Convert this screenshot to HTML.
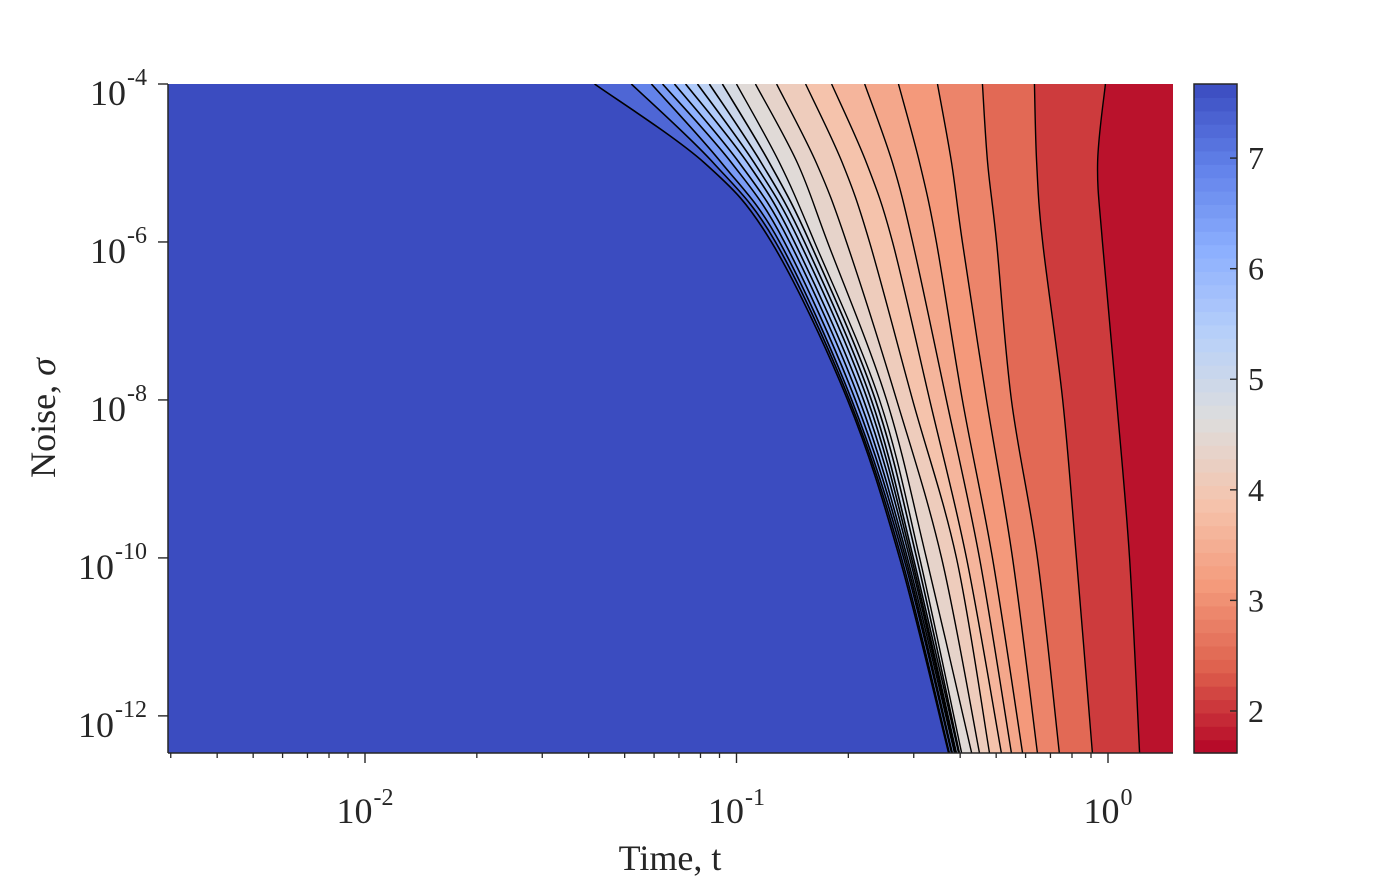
<!DOCTYPE html>
<html><head><meta charset="utf-8"><style>
html,body{margin:0;padding:0;background:#fff;}
svg{display:block;font-family:"Liberation Serif",serif;}
</style></head><body>
<svg id="chart" width="1400" height="877" viewBox="0 0 1400 877" xmlns="http://www.w3.org/2000/svg">
<defs><clipPath id="plotclip"><rect x="168" y="84" width="1005" height="669"/></clipPath></defs>
<g id="plot" clip-path="url(#plotclip)"></g>
<g id="axes"></g>
<g id="cbar"></g>
<text x="670" y="870" font-size="36" text-anchor="middle" fill="#262626">Time, t</text>
<text transform="translate(55,418) rotate(-90)" font-size="36" text-anchor="middle" fill="#262626">Noise, <tspan font-style="italic">σ</tspan></text>
</svg>
<script>
// ---- data ----
const sigmaRows = [-4, -5, -6, -8, -10, -12.47]; // log10 sigma
// contour lines (log10 t at each sigma row), ordered left (blue edge) -> right (red)
const lineEdge = [-1.382, -1.086, -0.906, -0.701, -0.561, -0.429];
const lineD8 = [-1.283, -1.062, -0.895, -0.696, -0.556, -0.427];
const lineD7 = [-1.229, -1.040, -0.884, -0.690, -0.550, -0.421];
const lineD6 = [-1.199, -1.013, -0.871, -0.680, -0.545, -0.419];
const lineD5 = [-1.167, -0.992, -0.857, -0.669, -0.540, -0.413];
const lineD4 = [-1.137, -0.970, -0.844, -0.658, -0.534, -0.410];
const lineD3 = [-1.105, -0.952, -0.830, -0.647, -0.529, -0.408];
const lineD2 = [-1.073, -0.933, -0.817, -0.637, -0.524, -0.402];
const lineD1 = [-1.038, -0.911, -0.803, -0.626, -0.515, -0.400];
const lineL10 = [-1.000, -0.884, -0.790, -0.615, -0.507, -0.394];
const lineL9 = [-0.949, -0.836, -0.755, -0.596, -0.489, -0.367];
const lineL8 = [-0.892, -0.785, -0.704, -0.569, -0.448, -0.346];
const lineL7 = [-0.814, -0.715, -0.642, -0.526, -0.408, -0.319];
const lineL6 = [-0.744, -0.650, -0.580, -0.480, -0.381, -0.287];
const lineL5 = [-0.655, -0.580, -0.526, -0.435, -0.346, -0.260];
const lineL4 = [-0.564, -0.507, -0.462, -0.392, -0.311, -0.230];
const lineL3 = [-0.459, -0.421, -0.392, -0.327, -0.257, -0.190];
const lineL2 = [-0.338, -0.324, -0.300, -0.260, -0.190, -0.131];
const lineL1 = [-0.198, -0.192, -0.176, -0.122, -0.085, -0.042];
const lineL0 = [-0.007, -0.028, -0.015, 0.023, 0.058, 0.085];
const lineLevels = [7.5, 7.1, 6.7, 6.3, 5.95, 5.65, 5.4, 5.15, 4.9, 4.65, 4.45, 4.25, 4.0, 3.75, 3.5, 3.25, 3.0, 2.7, 2.3, 1.85];
const cMin = 1.62, cMax = 7.67;
const xTickExps = [-2, -1, 0];
const yTickExps = [-4, -6, -8, -10, -12];
const cbarTicks = [2, 3, 4, 5, 6, 7];

const contourLines = [lineEdge, lineD8, lineD7, lineD6, lineD5, lineD4, lineD3, lineD2, lineD1, lineL10, lineL9, lineL8, lineL7, lineL6, lineL5, lineL4, lineL3, lineL2, lineL1, lineL0];

// ---- scales ----
const PL = 168, PR = 1173, PT = 84, PB = 753;
const xMinL = -2 - (365 - 168) / 371.5, xMaxL = 0 + (1173 - 1108) / 371.5;
const yMaxL = -4, yMinL = -12.47;
function xs(l) { return PL + (l - xMinL) / (xMaxL - xMinL) * (PR - PL); }
function ys(l) { return PT + (yMaxL - l) / (yMaxL - yMinL) * (PB - PT); }
function cs(v) { return PB - (v - cMin) / (cMax - cMin) * (PB - PT); }

const cwStops = [[59,76,192],[98,130,234],[141,176,254],[184,208,249],[221,221,221],[245,196,173],[244,154,123],[222,96,77],[180,4,38]];
function coolwarm(t) {
  t = Math.max(0, Math.min(1, t));
  const f = t * 8, i = Math.min(7, Math.floor(f)), r = f - i;
  const a = cwStops[i], b = cwStops[i + 1];
  return 'rgb(' + a.map((c, k) => Math.round(c + (b[k] - c) * r)).join(',') + ')';
}
function colorOf(v) { return coolwarm(1 - (v - cMin) / (cMax - cMin)); }

const NS = 'http://www.w3.org/2000/svg';
function mk(tag, attrs, parent) {
  const e = document.createElementNS(NS, tag);
  for (const k in attrs) e.setAttribute(k, attrs[k]);
  parent.appendChild(e);
  return e;
}
function curvePath(arr) {
  const p = arr.map((l, i) => [xs(l), ys(sigmaRows[i])]);
  let d = 'M' + p[0][0].toFixed(2) + ',' + p[0][1].toFixed(2);
  for (let i = 0; i < p.length - 1; i++) {
    const p0 = p[Math.max(0, i - 1)], p1 = p[i], p2 = p[i + 1], p3 = p[Math.min(p.length - 1, i + 2)];
    const c1 = [p1[0] + (p2[0] - p0[0]) / 6, p1[1] + (p2[1] - p0[1]) / 6];
    const c2 = [p2[0] - (p3[0] - p1[0]) / 6, p2[1] - (p3[1] - p1[1]) / 6];
    d += 'C' + c1.map(v => v.toFixed(2)).join(',') + ' ' + c2.map(v => v.toFixed(2)).join(',') + ' ' + p2.map(v => v.toFixed(2)).join(',');
  }
  return d;
}

const plot = document.getElementById('plot');
const bg = mk('rect', {x: PL, y: PT - 5, width: PR - PL, height: PB - PT + 10, fill: colorOf(cMax)}, plot);


contourLines.forEach((ln, i) => {
  const next = i + 1 < lineLevels.length ? lineLevels[i + 1] : cMin;
  const v = (lineLevels[i] + next) / 2;
  const d = curvePath(ln) + 'L' + (PR + 10) + ',' + (PB + 5) + 'L' + (PR + 10) + ',' + (PT - 5) + 'Z';
  const f = mk('path', {d: d, fill: colorOf(v), stroke: 'none'}, plot);
  
  
});
contourLines.forEach((ln, i) => {
  const s = mk('path', {d: curvePath(ln), fill: 'none', stroke: '#000', 'stroke-width': i < 9 ? 1.6 : 1.4}, plot);
  
  
});

// ---- axes ----
const axes = document.getElementById('axes');
const AC = '#262626';
mk('line', {x1: PL, y1: PT, x2: PL, y2: PB, stroke: AC, 'stroke-width': 1.5}, axes);
mk('line', {x1: PL, y1: PB, x2: PR, y2: PB, stroke: AC, 'stroke-width': 1.5}, axes);
for (let d = -3; d <= 0; d++) {
  for (let k = 2; k <= 9; k++) {
    const l = d + Math.log10(k);
    if (l < xMinL || l > xMaxL) continue;
    const x = xs(l);
    const t = mk('line', {x1: x, y1: PB, x2: x, y2: PB + 5, stroke: AC, 'stroke-width': 1.3}, axes);
    
    
  }
}
xTickExps.forEach(e => {
  const x = xs(e);
  const t = mk('line', {x1: x, y1: PB, x2: x, y2: PB + 10, stroke: AC, 'stroke-width': 1.4}, axes);
  
  
  const ex = String(e);
  const ew = ex.length * 12 - (ex[0] === '-' ? 4 : 0);
  const total = 36 + 1 + ew;
  const x0 = x - total / 2;
  const a = mk('text', {x: x0, y: 823, 'font-size': 36, fill: AC}, axes);
  a.textContent = '10';
  
  
  const b = mk('text', {x: x0 + 37, y: 805, 'font-size': 24, fill: AC}, axes);
  b.textContent = ex;
  
  
});
yTickExps.forEach(e => {
  const y = ys(e);
  const t = mk('line', {x1: PL - 10, y1: y, x2: PL, y2: y, stroke: AC, 'stroke-width': 1.4}, axes);
  
  
  const ex = String(e);
  const ew = ex.length * 12 - (ex[0] === '-' ? 4 : 0);
  const b = mk('text', {x: 147, y: y + 1, 'font-size': 24, 'text-anchor': 'end', fill: AC}, axes);
  b.textContent = ex;
  
  
  const a = mk('text', {x: 147 - ew - 1, y: y + 21, 'font-size': 36, 'text-anchor': 'end', fill: AC}, axes);
  a.textContent = '10';
  
  
});

// ---- colorbar ----
const cb = document.getElementById('cbar');
const CBL = 1194, CBR = 1237, nBands = 50;
for (let i = 0; i < nBands; i++) {
  const v0 = cMin + (cMax - cMin) * i / nBands, v1 = cMin + (cMax - cMin) * (i + 1) / nBands;
  const r = mk('rect', {x: CBL, y: cs(v1), width: CBR - CBL, height: cs(v0) - cs(v1) + 0.6, fill: colorOf((v0 + v1) / 2)}, cb);
  
  
}
const frame = mk('rect', {x: CBL, y: PT, width: CBR - CBL, height: PB - PT, fill: 'none', stroke: AC, 'stroke-width': 1.5}, cb);


cbarTicks.forEach(v => {
  const y = cs(v);
  const t = mk('line', {x1: CBR - 7, y1: y, x2: CBR, y2: y, stroke: AC, 'stroke-width': 1.4}, cb);
  
  
  const l = mk('text', {x: 1248, y: y + 11, 'font-size': 32, fill: AC}, cb);
  l.textContent = String(v);
  
  
});
</script>
</body></html>
